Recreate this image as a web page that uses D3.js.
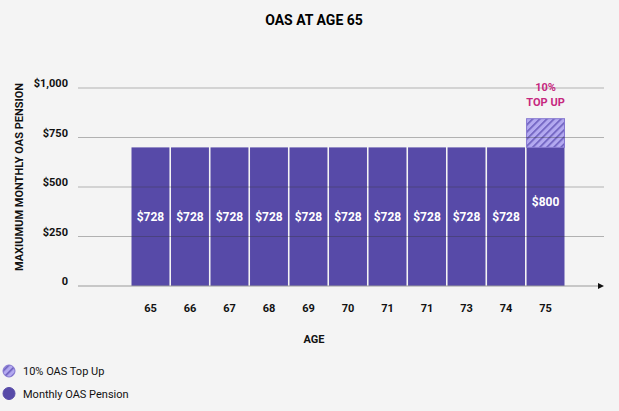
<!DOCTYPE html>
<html>
<head>
<meta charset="utf-8">
<script src="https://cdn.jsdelivr.net/npm/d3@7"></script>
<style>
  body { margin: 0; background: #f4f4f4; }
  svg { display: block; font-family: Roboto, "Noto Sans", sans-serif; }
</style>
</head>
<body>
<div id="chart"></div>
<script>
// data
const ages = ["65", "66", "67", "68", "69", "70", "71", "71", "73", "74", "75"];
const pension = [700, 700, 700, 700, 700, 700, 700, 700, 700, 700, 700];
const topUp = [0, 0, 0, 0, 0, 0, 0, 0, 0, 0, 145];
const barLabels = ["$728", "$728", "$728", "$728", "$728", "$728", "$728", "$728", "$728", "$728", "$800"];
const yTicks = [0, 250, 500, 750, 1000];
const yTickLabels = ["0", "$250", "$500", "$750", "$1,000"];

const width = 619;
const height = 411;
const purple = "#574aa8";

const svg = d3.select("#chart").append("svg")
    .attr("width", width)
    .attr("height", height);

const defs = svg.append("defs");
const pat = defs.append("pattern")
    .attr("id", "hatch")
    .attr("patternUnits", "userSpaceOnUse")
    .attr("width", 5).attr("height", 5)
    .attr("patternTransform", "rotate(45)");
pat.append("rect").attr("width", 5).attr("height", 5).attr("fill", "#b3a9f0");
pat.append("rect").attr("width", 1.6).attr("height", 5).attr("fill", "#6a5cbc");

const x = d3.scaleBand().domain(d3.range(ages.length)).range([131.5, 564.5]).paddingInner(0.04);
const y = d3.scaleLinear().domain([0, 1000]).range([286, 88]);

// title
svg.append("text")
    .attr("x", 314).attr("y", 25)
    .attr("text-anchor", "middle")
    .attr("font-size", 14).attr("font-weight", "bold")
    .text("OAS AT AGE 65");

// bars
svg.append("g").selectAll("rect")
    .data(pension)
    .join("rect")
    .attr("x", (d, i) => x(i))
    .attr("width", x.bandwidth())
    .attr("y", d => y(d))
    .attr("height", d => y(0) - y(d))
    .attr("fill", purple);

// top up (hatched part stacked on the pension)
const tops = topUp.map((d, i) => ({ i: i, base: pension[i], value: d })).filter(d => d.value > 0);
svg.append("g").selectAll("rect")
    .data(tops)
    .join("rect")
    .attr("x", d => x(d.i))
    .attr("width", x.bandwidth())
    .attr("y", d => y(d.base + d.value))
    .attr("height", d => y(d.base) - y(d.base + d.value))
    .attr("fill", "url(#hatch)")
    .attr("stroke", "#8577d0")
    .attr("stroke-width", 1);

// gridlines over the bars
svg.append("g").selectAll("line")
    .data(yTicks.slice(1))
    .join("line")
    .attr("x1", 78).attr("x2", 604)
    .attr("y1", d => y(d)).attr("y2", d => y(d))
    .attr("stroke", "#333").attr("stroke-opacity", 0.35)
    .attr("stroke-width", 1);

// x axis line with arrow
svg.append("line")
    .attr("x1", 78).attr("x2", 600)
    .attr("y1", y(0)).attr("y2", y(0))
    .attr("stroke", "#9a9a9a").attr("stroke-width", 1);
svg.append("path")
    .attr("d", `M598,${y(0) - 3}L604,${y(0)}L598,${y(0) + 3}Z`)
    .attr("fill", "#111");

// y tick labels
svg.append("g").selectAll("text")
    .data(yTicks)
    .join("text")
    .attr("x", 68)
    .attr("y", d => y(d) - 1)
    .attr("text-anchor", "end")
    .attr("font-size", 11).attr("font-weight", "bold")
    .attr("fill", "#111")
    .text((d, i) => yTickLabels[i]);

// y title
svg.append("text")
    .attr("transform", "translate(23,177) rotate(-90)")
    .attr("text-anchor", "middle")
    .attr("font-size", 11).attr("font-weight", "bold")
    .attr("fill", "#111")
    .text("MAXIUMUM MONTHLY OAS PENSION");

// bar value labels, centred on the whole bar
svg.append("g").selectAll("text")
    .data(barLabels)
    .join("text")
    .attr("x", (d, i) => x(i) + x.bandwidth() / 2)
    .attr("y", (d, i) => y((pension[i] + topUp[i]) / 2) + 4)
    .attr("text-anchor", "middle")
    .attr("font-size", 12).attr("font-weight", "bold")
    .attr("fill", "#fff")
    .text(d => d);

// top up callout
const cx = x(ages.length - 1) + x.bandwidth() / 2;
const callout = svg.append("text")
    .attr("text-anchor", "middle")
    .attr("font-size", 11).attr("font-weight", "bold")
    .attr("fill", "#c6287f");
callout.append("tspan").attr("x", cx).attr("y", 91).text("10%");
callout.append("tspan").attr("x", cx).attr("y", 105.5).text("TOP UP");

// x tick labels
svg.append("g").selectAll("text")
    .data(ages)
    .join("text")
    .attr("x", (d, i) => x(i) + x.bandwidth() / 2)
    .attr("y", 312)
    .attr("text-anchor", "middle")
    .attr("font-size", 11).attr("font-weight", "bold")
    .attr("fill", "#111")
    .text(d => d);

svg.append("text")
    .attr("x", 314).attr("y", 343)
    .attr("text-anchor", "middle")
    .attr("font-size", 11).attr("font-weight", "bold")
    .attr("fill", "#111")
    .text("AGE");

// legend
const legend = [
  { label: "10% OAS Top Up", fill: "url(#hatch)", stroke: "#8577d0" },
  { label: "Monthly OAS Pension", fill: purple, stroke: purple }
];
const lg = svg.append("g").selectAll("g")
    .data(legend)
    .join("g")
    .attr("transform", (d, i) => `translate(9,${371 + i * 22.5})`);
lg.append("circle").attr("r", 6).attr("fill", d => d.fill).attr("stroke", d => d.stroke);
lg.append("text")
    .attr("x", 14).attr("y", 4)
    .attr("font-size", 11)
    .attr("fill", "#111")
    .text(d => d.label);
</script>
</body>
</html>
